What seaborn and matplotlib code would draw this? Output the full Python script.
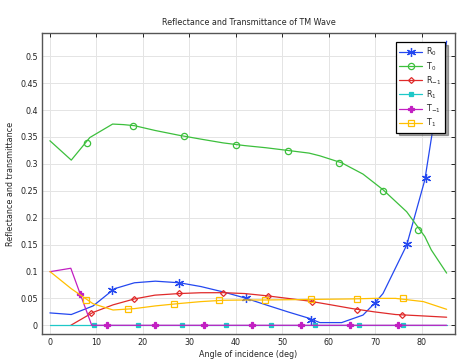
import numpy as np
import pandas as pd
import seaborn as sns
import matplotlib
matplotlib.use("Agg")
import matplotlib.pyplot as plt
from matplotlib.lines import Line2D

# ---- data ----
r0_x = [0, 4.6, 9.3, 13.9, 18.2, 22.7, 27.9, 32.5, 37.3, 41.9, 46.5, 51.2, 55.8, 58.1, 62.8, 67.4, 69.9, 71.7, 76.8, 80.7, 85.4]
r0_y = [0.023, 0.020, 0.036, 0.068, 0.079, 0.082, 0.079, 0.072, 0.062, 0.051, 0.038, 0.025, 0.013, 0.005, 0.005, 0.019, 0.041, 0.059, 0.149, 0.27, 0.528]
r0_mx = [13.3, 27.8, 42.2, 56.3, 69.9, 76.8, 80.9]
r0_my = [0.0656, 0.0786, 0.050, 0.0098, 0.041, 0.151, 0.274]

t0_x = [0, 4.6, 8.6, 13.5, 15.8, 18.2, 22.7, 27.9, 32.5, 37.3, 41.9, 46.5, 51.2, 55.8, 58.1, 62.8, 67.4, 71.7, 76.8, 80.7, 82.1, 85.4]
t0_y = [0.343, 0.307, 0.349, 0.374, 0.373, 0.371, 0.362, 0.353, 0.346, 0.339, 0.334, 0.330, 0.325, 0.320, 0.315, 0.302, 0.281, 0.252, 0.211, 0.165, 0.14, 0.097]
t0_mx = [7.9, 17.9, 28.8, 40.0, 51.3, 62.2, 71.7, 79.3]
t0_my = [0.339, 0.371, 0.352, 0.336, 0.3245, 0.302, 0.250, 0.177]

rm1_x = [4.5, 9.3, 13.6, 18.2, 22.6, 27.9, 32.5, 37.3, 41.9, 46.5, 51.2, 55.8, 60.5, 65.1, 69.8, 74.4, 79.0, 85.4]
rm1_y = [0.0, 0.024, 0.038, 0.049, 0.056, 0.059, 0.0605, 0.0606, 0.059, 0.055, 0.050, 0.045, 0.038, 0.031, 0.025, 0.020, 0.018, 0.015]
rm1_mx = [8.9, 18.1, 27.8, 37.3, 47.0, 56.5, 66.1, 75.8]
rm1_my = [0.022, 0.0495, 0.0595, 0.0606, 0.0545, 0.0433, 0.0284, 0.019]

r1_x = [0, 85.4]
r1_y = [0.0, 0.0]
r1_mx = [9.5, 19.0, 28.5, 38.0, 47.5, 57.0, 66.5, 76.0]
r1_my = [0, 0, 0, 0, 0, 0, 0, 0]

tm1_x = [0, 4.5, 9.0, 85.4]
tm1_y = [0.0996, 0.106, 0.0, 0.0]
tm1_mx = [6.5, 12.2, 22.7, 33.2, 43.6, 54.0, 64.6, 75.0]
tm1_my = [0.058, 0, 0, 0, 0, 0, 0, 0]

t1_x = [0, 4.6, 9.3, 13.6, 18.2, 22.7, 27.9, 32.5, 37.3, 41.9, 46.5, 51.2, 55.8, 60.5, 65.1, 69.8, 74.4, 80.4, 85.4]
t1_y = [0.1, 0.068, 0.040, 0.0284, 0.031, 0.036, 0.0405, 0.044, 0.0465, 0.047, 0.047, 0.0475, 0.048, 0.0485, 0.049, 0.050, 0.050, 0.044, 0.0297]
t1_mx = [7.7, 16.9, 26.8, 36.5, 46.3, 56.2, 66.0, 75.9]
t1_my = [0.047, 0.0303, 0.040, 0.0464, 0.047, 0.048, 0.0494, 0.050]

labels = ["R$_0$", "T$_0$", "R$_{-1}$", "R$_1$", "T$_{-1}$", "T$_1$"]
colors = ["#2448f0", "#3cbf3c", "#e02a2a", "#1ec8c8", "#c21fc2", "#ffbf00"]
markers = [(6, 2, 0), "o", "D", "s", "P", "s"]
msizes = [6.5, 4.5, 3.0, 3.0, 4.5, 5.0]
mfaces = ["color", "none", "none", "color", "color", "none"]

series = [
    (r0_x, r0_y, r0_mx, r0_my),
    (t0_x, t0_y, t0_mx, t0_my),
    (rm1_x, rm1_y, rm1_mx, rm1_my),
    (r1_x, r1_y, r1_mx, r1_my),
    (tm1_x, tm1_y, tm1_mx, tm1_my),
    (t1_x, t1_y, t1_mx, t1_my),
]

sns.set_style("white")
plt.rcParams['font.family'] = ['DejaVu Sans']
fs = 5.8

fig = plt.figure(figsize=(4.63, 3.6), dpi=100)
ax = fig.add_axes([42 / 463, 1 - 334 / 360, (455 - 42) / 463, (334 - 33.3) / 360])

handles = []
for (xs, ys, mx, my), lab, c, m, ms, mf in zip(series, labels, colors, markers, msizes, mfaces):
    sns.lineplot(x=xs, y=ys, ax=ax, color=c, linewidth=0.9, sort=False, estimator=None)
    face = c if mf == "color" else "none"
    sns.lineplot(x=mx, y=my, ax=ax, color=c, linestyle="", marker=m, markersize=ms,
                 markerfacecolor=face, markeredgecolor=c, markeredgewidth=0.9,
                 sort=False, estimator=None)
    handles.append(Line2D([0], [0], color=c, linewidth=0.9, marker=m, markersize=ms,
                          markerfacecolor=face, markeredgecolor=c, markeredgewidth=0.9))

ax.set_xlim(-1.7, 87.2)
ax.set_ylim(-0.0162, 0.5427)
ax.set_xticks(np.arange(0, 81, 10))
ax.set_yticks(np.arange(0, 0.51, 0.05))
ax.set_yticklabels(["0", "0.05", "0.1", "0.15", "0.2", "0.25", "0.3", "0.35", "0.4", "0.45", "0.5"])
ax.grid(True, color="#e4e4e4", linewidth=0.7)
ax.set_axisbelow(True)
ax.tick_params(direction="in", length=3, width=0.7, top=True, right=True,
               labelsize=fs, colors="#222222", pad=3)
for s in ax.spines.values():
    s.set_color("#555555")
    s.set_linewidth(1.0)

ax.set_title("Reflectance and Transmittance of TM Wave", fontsize=fs, pad=6)
ax.set_xlabel("Angle of incidence (deg)", fontsize=fs, labelpad=2)
ax.set_ylabel("Reflectance and transmittance", fontsize=fs, labelpad=4)

leg = ax.legend(handles, labels, loc="upper right", fontsize=fs, frameon=True,
                fancybox=False, shadow=True, handlelength=2.8, borderpad=0.45,
                labelspacing=0.2, handletextpad=0.5, borderaxespad=0.0,
                bbox_to_anchor=(0.976, 0.970))
leg.get_frame().set_edgecolor("black")
leg.get_frame().set_linewidth(0.9)

fig.savefig("out.png", dpi=100)
